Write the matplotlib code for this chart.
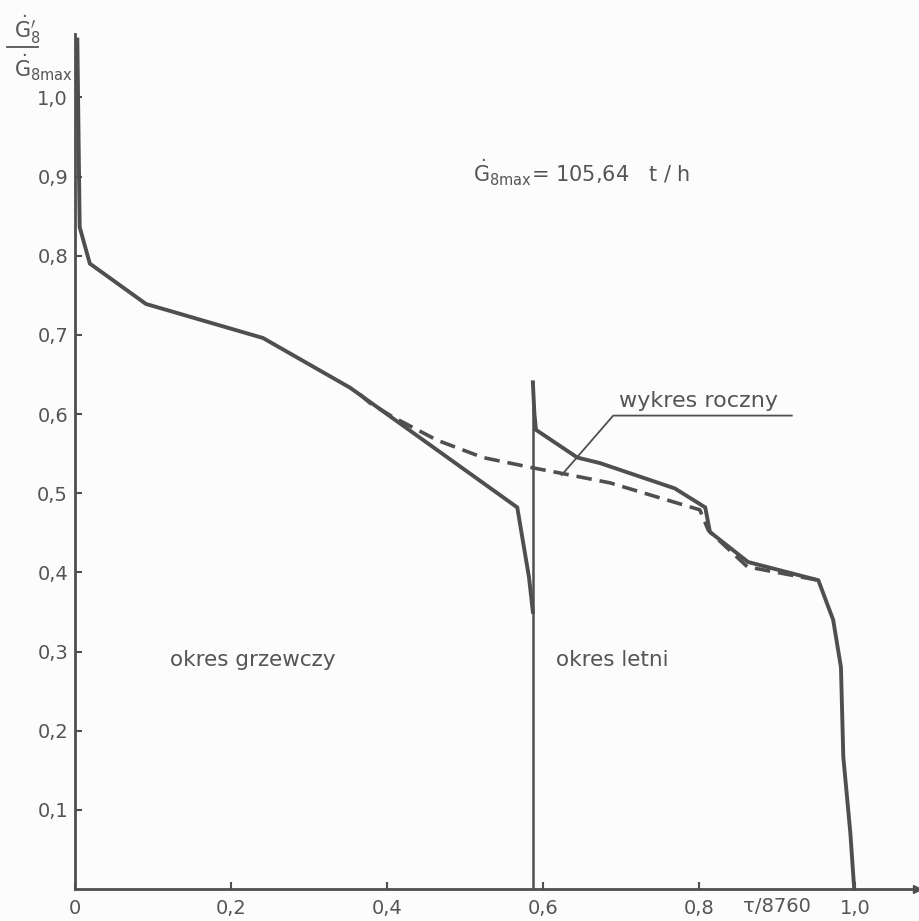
# Uporządkowany wykres obciążenia Ġ8/Ġ8max w funkcji czasu (τ/8760)
import matplotlib
matplotlib.use('Agg')
import matplotlib.pyplot as plt
from matplotlib.lines import Line2D

# okres grzewczy - linia ciągła
heat_x = [0.003, 0.006, 0.019, 0.091, 0.241, 0.353, 0.567, 0.582, 0.587]
heat_y = [1.073, 0.836, 0.790, 0.739, 0.696, 0.633, 0.482, 0.394, 0.350]

# okres letni - linia ciągła
summer_x = [0.587, 0.589, 0.591, 0.644, 0.673, 0.769, 0.808, 0.814, 0.863,
            0.953, 0.972, 0.982, 0.985, 0.994, 0.999]
summer_y = [0.640, 0.600, 0.580, 0.545, 0.538, 0.506, 0.482, 0.451, 0.413,
            0.390, 0.340, 0.280, 0.167, 0.071, 0.000]

# wykres roczny - linia przerywana
annual_x = [0.365, 0.378, 0.408, 0.464, 0.523, 0.587, 0.624, 0.686, 0.767,
            0.801, 0.812, 0.862, 0.953]
annual_y = [0.625, 0.614, 0.596, 0.567, 0.545, 0.532, 0.525, 0.513, 0.489,
            0.479, 0.453, 0.407, 0.390]

# granica między okresami
border_x = 0.587
border_top = 0.640

# podziałki osi
x_ticks = [0, 0.2, 0.4, 0.6, 0.8, 1.0]
x_labels = ['0', '0,2', '0,4', '0,6', '0,8', '1,0']
y_ticks = [0.1, 0.2, 0.3, 0.4, 0.5, 0.6, 0.7, 0.8, 0.9, 1.0]
y_labels = ['0,1', '0,2', '0,3', '0,4', '0,5', '0,6', '0,7', '0,8', '0,9', '1,0']

ink = '#4f4f4f'
txt = '#555555'

fig = plt.figure(figsize=(9.19, 9.21), dpi=100)
fig.patch.set_facecolor('#fcfcfc')
ax = fig.add_axes([75 / 919, 32 / 921, 842.4 / 919, 855 / 921])
ax.set_facecolor('#fcfcfc')
ax.set_xlim(0, 1.08)
ax.set_ylim(0, 1.08)

# krzywe
ax.plot(heat_x, heat_y, color=ink, lw=2.8, solid_joinstyle='miter', clip_on=False)
ax.plot(summer_x, summer_y, color=ink, lw=2.8, solid_joinstyle='miter', clip_on=False)
ax.plot(annual_x, annual_y, color=ink, lw=2.6, dashes=(4.3, 2.2))
ax.plot([border_x, border_x], [0, border_top], color=ink, lw=1.8)

# osie
for s in ['top', 'right']:
    ax.spines[s].set_visible(False)
for s in ['left', 'bottom']:
    ax.spines[s].set_color(ink)
    ax.spines[s].set_linewidth(2)
ax.plot(ax.get_xlim()[1], 0, marker='>', ms=6, color=ink, clip_on=False)

ax.set_xticks(x_ticks)
ax.set_xticklabels(x_labels)
ax.set_yticks(y_ticks)
ax.set_yticklabels(y_labels)
ax.tick_params(direction='in', length=5, width=1.5, color=ink,
               labelsize=14, labelcolor=txt)
ax.tick_params(axis='x', pad=7)
ax.tick_params(axis='y', pad=5)

# podpis osi x
ax.text(0.9, -0.022, 'τ/8760', fontsize=14, color=txt,
        ha='center', va='center', clip_on=False)

# podpis osi y (ułamek)
fig.text(27 / 919, 1 - 30 / 921, r"$\dot{\mathrm{G}}_8^{\prime}$", fontsize=15,
         color=txt, ha='center', va='center')
fig.add_artist(Line2D([7 / 919, 38 / 919], [1 - 47 / 921, 1 - 47 / 921],
                      color=txt, lw=1.3))
fig.text(44 / 919, 1 - 68 / 921, r"$\dot{\mathrm{G}}_{\mathrm{8max}}$", fontsize=15,
         color=txt, ha='center', va='center')

# opisy
ax.text(0.51, 0.893, r"$\dot{\mathrm{G}}_{\mathrm{8max}}$= 105,64   t / h",
        fontsize=15, color=txt, ha='left', va='baseline')
ax.text(0.122, 0.289, 'okres grzewczy', fontsize=15.5, color=txt,
        ha='left', va='center')
ax.text(0.617, 0.289, 'okres letni', fontsize=15.5, color=txt,
        ha='left', va='center')

# odnośnik "wykres roczny"
ax.plot([0.624, 0.690, 0.919], [0.523, 0.598, 0.598], color=ink, lw=1.3)
ax.text(0.697, 0.609, 'wykres roczny', fontsize=16, color=txt,
        ha='left', va='baseline')

plt.savefig('out.png', dpi=100, facecolor=fig.get_facecolor())
